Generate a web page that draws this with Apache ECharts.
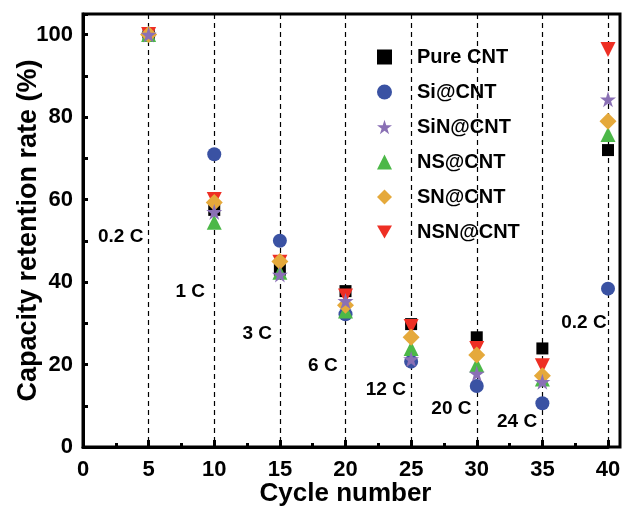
<!DOCTYPE html>
<html>
<head>
<meta charset="utf-8">
<script src="https://cdn.jsdelivr.net/npm/echarts@6/dist/echarts.min.js"></script>
<style>
  html, body { margin: 0; padding: 0; background: #fff; }
  #main { width: 622px; height: 506px; }
</style>
</head>
<body>
<div id="main"></div>
<script>
var cycles = [5, 10, 15, 20, 25, 30, 35, 40];
var pureCNT = [100, 57.5, 43.0, 37.8, 29.8, 26.6, 23.9, 72.0];
var siCNT = [100, 71.0, 50.0, 32.2, 20.7, 14.8, 10.6, 38.4];
var siNCNT = [100, 57.0, 41.8, 35.4, 21.3, 17.8, 15.8, 84.3];
var nsCNT = [100, 54.5, 42.4, 33.0, 23.9, 19.9, 16.5, 75.8];
var snCNT = [100, 59.3, 45.0, 34.4, 26.6, 22.3, 17.3, 79.0];
var nsnCNT = [100, 60.0, 44.8, 36.6, 29.2, 23.9, 19.7, 96.4];

// rate annotations (right edge of text sits at x, centred on y)
var rateLabels = ['0.2 C', '1 C', '3 C', '6 C', '12 C', '20 C', '24 C', '0.2 C'];
var rateX = [4.6, 9.3, 14.4, 19.4, 24.6, 29.6, 34.6, 39.9];
var rateY = [50.9, 37.6, 27.4, 19.7, 14.0, 9.2, 6.0, 30.2];

var legendOrder = ['Pure CNT', 'Si@CNT', 'SiN@CNT', 'NS@CNT', 'SN@CNT', 'NSN@CNT'];

var FONT = 'Liberation Sans';
var starPath = 'path://M50,0 L61.2,34.5 L97.6,34.5 L68.2,55.9 L79.4,90.5 L50,69.1 L20.6,90.5 L31.8,55.9 L2.4,34.5 L38.8,34.5 Z';
var downTri = 'path://M0,0 L100,0 L50,86.6 Z';

function pts(vals) {
    return cycles.map(function (c, i) { return [c, vals[i]]; });
}

function scatter(name, vals, symbol, size, color) {
    return {
        name: name,
        type: 'scatter',
        data: pts(vals),
        symbol: symbol,
        symbolSize: size,
        clip: false,
        itemStyle: { color: color, opacity: 1 }
    };
}

var chart = echarts.init(document.getElementById('main'));

var option = {
    backgroundColor: '#fff',
    animation: false,
    grid: { left: 83, right: 14, top: 14, bottom: 59, outerBoundsMode: 'none', containLabel: false },
    legend: {
        data: legendOrder,
        orient: 'vertical',
        left: 372,
        top: 42,
        itemWidth: 15,
        itemHeight: 15,
        itemGap: 15,
        symbolKeepAspect: true,
        textStyle: {
            color: '#000', fontSize: 20, fontWeight: 'bold', fontFamily: FONT,
            padding: [0, 0, 0, 20]
        }
    },
    xAxis: {
        type: 'value',
        min: 0,
        max: 40,
        interval: 5,
        name: 'Cycle number',
        nameLocation: 'middle',
        nameGap: 34,
        nameMoveOverlap: false,
        nameTextStyle: { color: '#000', fontSize: 26, fontWeight: 'bold', fontFamily: FONT },
        axisLine: { lineStyle: { color: '#000', width: 3 } },
        axisTick: { inside: true, length: 7, lineStyle: { color: '#000', width: 3 } },
        minorTick: { show: true, splitNumber: 2, length: 4, lineStyle: { color: '#000', width: 3 } },
        axisLabel: { color: '#000', fontSize: 22, fontWeight: 'bold', fontFamily: FONT, margin: 12 },
        splitLine: { show: true, lineStyle: { color: '#000', width: 1.2, type: [5, 4] } }
    },
    yAxis: {
        type: 'value',
        min: 0,
        max: 105,
        interval: 10,
        name: 'Capacity retention rate (%)',
        nameLocation: 'middle',
        nameGap: 41,
        nameMoveOverlap: false,
        nameTextStyle: { color: '#000', fontSize: 27, fontWeight: 'bold', fontFamily: FONT },
        axisLine: { show: true, lineStyle: { color: '#000', width: 3 } },
        axisTick: { show: true, inside: true, length: 5, lineStyle: { color: '#000', width: 3 } },
        axisLabel: {
            color: '#000', fontSize: 22, fontWeight: 'bold', fontFamily: FONT, margin: 10,
            formatter: function (v) { return v % 20 === 0 ? String(v) : ''; }
        },
        splitLine: { show: false }
    },
    graphic: [{
        type: 'rect',
        z: 100,
        shape: { x: 83, y: 14, width: 537, height: 433 },
        style: { fill: null, stroke: '#000', lineWidth: 3 }
    }],
    series: [
        scatter('Si@CNT', siCNT, 'circle', 14, '#3a52a3'),
        scatter('Pure CNT', pureCNT, 'rect', 12, '#000000'),
        scatter('NS@CNT', nsCNT, 'triangle', 15, '#4cb848'),
        scatter('NSN@CNT', nsnCNT, downTri, 15, '#ee2f24'),
        scatter('SN@CNT', snCNT, 'diamond', 17, '#e5a93b'),
        scatter('SiN@CNT', siNCNT, starPath, 16, '#8a70b5'),
        {
            name: 'rates',
            type: 'scatter',
            symbolSize: 0,
            clip: false,
            silent: true,
            itemStyle: { opacity: 1 },
            data: rateX.map(function (x, i) { return [x, rateY[i]]; }),
            label: {
                show: true,
                position: 'left',
                distance: 0,
                opacity: 1,
                color: '#000',
                fontSize: 19,
                fontWeight: 'bold',
                fontFamily: FONT,
                formatter: function (p) { return rateLabels[p.dataIndex]; }
            }
        }
    ]
};

chart.setOption(option);
</script>
</body>
</html>
